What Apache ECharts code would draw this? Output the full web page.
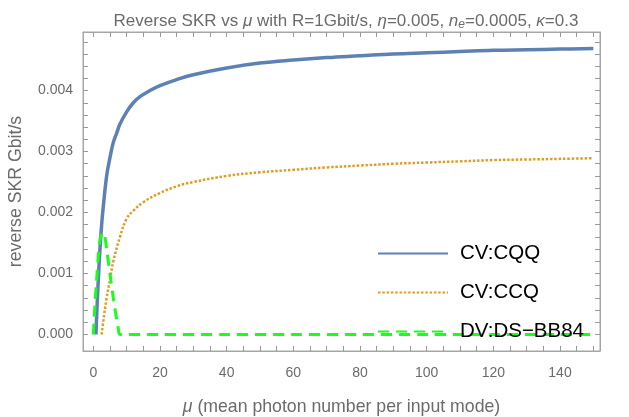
<!DOCTYPE html>
<html>
<head>
<meta charset="utf-8">
<script src="https://cdn.jsdelivr.net/npm/echarts@6/dist/echarts.min.js"></script>
<style>
html,body{margin:0;padding:0;background:#fff;}
#chart{width:629px;height:417px;}
</style>
</head>
<body>
<div id="chart"></div>
<script>
// ---- data ----
const seriesNames = ['CV:CQQ', 'CV:CCQ', 'DV:DS\u2212BB84'];

const cqqMu  = [0.8, 1, 1.5, 2, 2.5, 3, 4, 5, 6, 7, 8, 10, 12, 14, 17, 20, 25, 30, 40, 50, 60, 70, 80, 90, 100, 110, 120, 130, 140, 150];
const cqqVal = [0, 0.0003, 0.0009, 0.0014, 0.0018, 0.0021, 0.0026, 0.0029, 0.00315, 0.0033, 0.00345, 0.00365, 0.0038, 0.0039, 0.004, 0.00408, 0.00418, 0.00426, 0.00437, 0.00445, 0.0045, 0.00454, 0.00457, 0.0046, 0.00462, 0.00464, 0.00466, 0.00467, 0.00468, 0.00469];

const ccqMu  = [2.5, 3, 4, 5, 6, 8, 10, 12, 15, 20, 25, 30, 40, 50, 60, 70, 80, 90, 100, 110, 120, 130, 140, 150];
const ccqVal = [0, 0.00022, 0.0006, 0.0009, 0.0012, 0.0016, 0.0019, 0.00203, 0.00217, 0.00232, 0.00243, 0.0025, 0.0026, 0.00266, 0.0027, 0.00274, 0.00277, 0.0028, 0.00282, 0.00284, 0.00286, 0.00287, 0.00288, 0.00289];

const bb84Mu  = [0, 0.5, 1, 1.5, 2, 2.5, 3, 3.5, 4, 5, 6, 7, 7.5, 8, 20, 40, 60, 80, 100, 120, 140, 150];
const bb84Val = [0, 0.0005, 0.0009, 0.0013, 0.00155, 0.00165, 0.00167, 0.0016, 0.0014, 0.001, 0.0006, 0.00025, 0.0001, 0, 0, 0, 0, 0, 0, 0, 0, 0];

const xLabelTicks = [0, 20, 40, 60, 80, 100, 120, 140];
const xAllTicks = [0, 5, 10, 15, 20, 25, 30, 35, 40, 45, 50, 55, 60, 65, 70, 75, 80, 85, 90, 95, 100, 105, 110, 115, 120, 125, 130, 135, 140, 145, 150];
const yLabelTicks = [0, 0.001, 0.002, 0.003, 0.004];
const yAllTicks = [0, 0.0002, 0.0004, 0.0006, 0.0008, 0.001, 0.0012, 0.0014, 0.0016, 0.0018, 0.002, 0.0022, 0.0024, 0.0026, 0.0028, 0.003, 0.0032, 0.0034, 0.0036, 0.0038, 0.004, 0.0042, 0.0044, 0.0046, 0.0048];

const xMin = -3.09, xMax = 152.0;
const yMin = -0.00027, yMax = 0.00496;

function zip(a, b) { return a.map((v, i) => [v, b[i]]); }

const chart = echarts.init(document.getElementById('chart'), null, {renderer: 'canvas'});
const FRAME = '#a6a6a6';
const TICK = '#999999';
const TXT = '#6b6b6b';
const FONT = '"Liberation Sans", Arial, sans-serif';

const option = {
  animation: false,
  backgroundColor: '#ffffff',
  title: {
    text: 'Reverse SKR vs {i|\u03bc} with R=1Gbit/s, {i|\u03b7}=0.005, {i|n}{s|e}=0.0005, {i|\u03ba}=0.3',
    left: 341, top: 6, textAlign: 'center',
    textStyle: {
      color: TXT, fontSize: 17, fontWeight: 'normal', fontFamily: FONT,
      rich: {
        i: {fontStyle: 'italic', color: TXT, fontSize: 17, fontFamily: FONT},
        s: {fontStyle: 'italic', color: TXT, fontSize: 12, fontFamily: FONT, verticalAlign: 'bottom', padding: [8, 0, 0, 0]}
      }
    }
  },
  grid: [
    {left: 83, top: 32, width: 517, height: 319, show: true, borderColor: FRAME, borderWidth: 1,
      backgroundColor: 'transparent', containLabel: false, outerBoundsMode: 'none'}
  ],
  xAxis: [
    {type: 'value', position: 'bottom', min: xMin, max: xMax,
      axisLine: {show: true, onZero: false, lineStyle: {color: FRAME}},
      splitLine: {show: false},
      axisTick: {show: true, inside: true, length: 5, customValues: xAllTicks, lineStyle: {color: TICK}},
      minorTick: {show: false},
      axisLabel: {show: true, customValues: xLabelTicks, color: TXT, fontSize: 14, fontFamily: FONT, margin: 15},
      name: '{i|\u03bc} (mean photon number per input mode)',
      nameLocation: 'middle', nameGap: 47,
      nameTextStyle: {color: TXT, fontSize: 17.7, fontFamily: FONT, rich: {i: {fontStyle: 'italic', color: TXT, fontSize: 17.7, fontFamily: FONT}}}
    },
    {type: 'value', position: 'top', min: xMin, max: xMax,
      axisLine: {show: true, onZero: false, lineStyle: {color: FRAME}},
      splitLine: {show: false},
      axisTick: {show: true, inside: true, length: 5, customValues: xAllTicks, lineStyle: {color: TICK}},
      minorTick: {show: false},
      axisLabel: {show: false}
    }
  ],
  yAxis: [
    {type: 'value', position: 'left', min: yMin, max: yMax,
      axisLine: {show: true, onZero: false, lineStyle: {color: FRAME}},
      splitLine: {show: false},
      axisTick: {show: true, inside: true, length: 5, customValues: yAllTicks, lineStyle: {color: TICK}},
      minorTick: {show: false},
      axisLabel: {show: true, customValues: yLabelTicks, color: TXT, fontSize: 14, fontFamily: FONT, margin: 10, formatter: v => v.toFixed(3)},
      name: 'reverse SKR Gbit/s',
      nameLocation: 'middle', nameGap: 58, nameRotate: 90,
      nameTextStyle: {color: TXT, fontSize: 17.7, fontFamily: FONT}
    },
    {type: 'value', position: 'right', min: yMin, max: yMax,
      axisLine: {show: true, onZero: false, lineStyle: {color: FRAME}},
      splitLine: {show: false},
      axisTick: {show: true, inside: true, length: 5, customValues: yAllTicks, lineStyle: {color: TICK}},
      minorTick: {show: false},
      axisLabel: {show: false}
    }
  ],
  legend: {
    orient: 'vertical', left: 372, top: 238,
    itemWidth: 70, itemHeight: 18, itemGap: 18,
    itemStyle: {opacity: 0},
    textStyle: {color: '#000', fontSize: 20.5, fontFamily: FONT, padding: [0, 0, 0, 7]},
    data: seriesNames
  },
  series: [
    {name: seriesNames[0], type: 'line', data: zip(cqqMu, cqqVal), showSymbol: false, symbol: 'none', smooth: 0.4,
      lineStyle: {color: '#5e81b5', width: 3.5, type: 'solid'}, itemStyle: {color: '#5e81b5'}},
    {name: seriesNames[1], type: 'line', data: zip(ccqMu, ccqVal), showSymbol: false, symbol: 'none', smooth: 0.4,
      lineStyle: {color: '#e19c24', width: 2.5, type: [2.5, 1.8]}, itemStyle: {color: '#e19c24'}},
    {name: seriesNames[2], type: 'line', data: zip(bb84Mu, bb84Val), showSymbol: false, symbol: 'none', smooth: 0.3,
      lineStyle: {color: '#1aff1a', width: 3, type: [11, 7]}, itemStyle: {color: '#1aff1a'}}
  ]
};
chart.setOption(option);
</script>
</body>
</html>
